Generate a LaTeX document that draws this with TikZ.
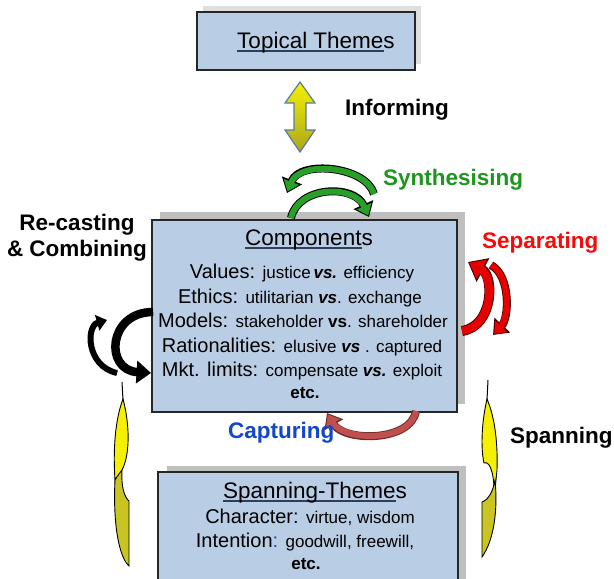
\documentclass[tikz,border=0pt]{standalone}
\usepackage{fontspec}
\setmainfont{Liberation Sans}
\usetikzlibrary{arrows.meta}
\definecolor{boxfill}{HTML}{B9CDE5}
\definecolor{boxline}{HTML}{262626}
\definecolor{shadowc}{HTML}{BFBFBF}
\definecolor{ulcol}{HTML}{2E3F5C}
\definecolor{synthgreen}{RGB}{30,150,30}
\definecolor{arrgreen}{RGB}{40,160,40}
\definecolor{sepred}{RGB}{245,10,10}
\definecolor{arrred}{RGB}{230,0,0}
\definecolor{capblue}{RGB}{20,70,200}
\definecolor{caparr}{HTML}{C0504D}
\definecolor{yelbright}{HTML}{F5F000}
\definecolor{yeldark}{HTML}{C9C422}
\definecolor{infoutline}{HTML}{5A7CA0}
\newcommand\dgTitle{\fontsize{22.5}{26}\selectfont}
\newcommand\dgMain{\fontsize{20}{24}\selectfont}
\newcommand\dgSub{\fontsize{17}{20}\selectfont}
\newcommand\dgLbl{\fontsize{22.5}{26}\selectfont\bfseries}
\newcommand\dgul[2]{\setbox0\hbox{#1}\rlap{\color{ulcol}\rule[-4pt]{\wd0}{1.6pt}}\box0#2}
\newcommand\fatarrow[4]{%
  \draw[color=#2, line width=#3+2pt, -{Triangle[width=0pt 2.6, length=0pt 1.7]}] #4;
  \draw[color=#1, line width=#3, shorten >=1.7pt, -{Triangle[width=0pt 2.6, length=0pt 1.7]}] #4;}
\tikzset{
  dgbox/.style={draw=boxline, line width=1.5pt, fill=boxfill},
  dgshadow/.style={fill=shadowc, draw=none},
  lbl/.style={font=\dgLbl, inner sep=0pt},
  txt/.style={inner sep=0pt, anchor=base},
  yelpiece/.style={draw=black, line width=0.9pt}
}
\begin{document}
\begin{tikzpicture}[x=1pt,y=-1pt]
\useasboundingbox (0,0) rectangle (614,579);
\clip (0,0) rectangle (614,579);

% ---------- Topical Themes box ----------
\fill[shadowc!50] (203,6) rectangle (421,64);
\draw[dgbox] (197,12) rectangle (415,70);
\node[txt, font=\dgTitle] (topical) at (316,48) {\dgul{Topical Theme}{s}};

% ---------- Informing double arrow ----------
\shade[top color=yelbright, bottom color=yeldark!85!black, draw=infoutline, line width=1.2pt]
  (300,82) -- (315,103) -- (306,103) -- (306,130) -- (315,130) -- (300,152)
  -- (285,130) -- (294,130) -- (294,103) -- (285,103) -- cycle;
\node[lbl, anchor=base west] (informing) at (345,115) {Informing};

% ---------- Components box ----------
\fill[dgshadow] (160,212) rectangle (465,404);
\draw[dgbox] (152,220) rectangle (457,412);
\node[txt, font=\dgTitle] (comptitle) at (309,245) {\dgul{Component}{s}};
\node[txt] (values) at (302,278) {\dgMain Values: \dgSub justice\,\textbf{\textit{vs.}} efficiency};
\node[txt] (ethics) at (300,303) {\dgMain Ethics: \dgSub utilitarian \textbf{\textit{vs}}. exchange};
\node[txt] (models) at (303,327) {\dgMain Models: \dgSub stakeholder \textbf{vs}. shareholder};
\node[txt] (ration) at (302,352) {\dgMain Rationalities: \dgSub elusive \textbf{\textit{vs}} . captured};
\node[txt] (mkt) at (302,376) {\dgMain Mkt. limits: \dgSub compensate \textbf{\textit{vs.}} exploit};
\node[txt, font=\dgSub\bfseries] (etc1) at (305,398) {etc.};

% ---------- Synthesising (green) ----------
\fatarrow{arrgreen}{black}{6pt}{(374,194) .. controls (366,166) and (300,160) .. (287,193)}
\fatarrow{arrgreen}{black}{6pt}{(291,218) .. controls (298,186) and (354,184) .. (369,217)}
\node[lbl, anchor=base west, text=synthgreen] (synth) at (383,185) {Synthesising};

% ---------- Re-casting & Combining (black) ----------
\node[lbl, align=center, anchor=base] (recast) at (77,256) {Re-casting\\\& Combining};
\fatarrow{black}{black}{6.5pt}{(153,312) .. controls (108,312) and (104,370) .. (151,373)}
\fatarrow{black}{black}{4pt}{(117,373) .. controls (86,366) and (86,326) .. (107,320)}

% ---------- Separating (red) ----------
\node[lbl, anchor=base west, text=sepred] (sep) at (482,248) {Separating};
\fatarrow{arrred}{black!70!red}{8pt}{(462,331) .. controls (494,326) and (494,276) .. (468,262)}
\fatarrow{arrred}{black!70!red}{6pt}{(491,265) .. controls (511,276) and (509,318) .. (493,335)}

% ---------- Capturing ----------
\fatarrow{caparr}{caparr!55!black}{6pt}{(416,411) .. controls (411,442) and (344,442) .. (327,413)}
\node[lbl, anchor=base west, text=capblue] (capt) at (228,438) {Capturing};

% ---------- Spanning-Themes box ----------
\fill[dgshadow] (167,466) rectangle (466,600);
\draw[dgbox] (158,472) rectangle (458,610);
\node[txt, font=\dgTitle] (spantitle) at (315,498) {\dgul{Spanning-Theme}{s}};
\node[txt] (charac) at (310,523) {\dgMain Character: \dgSub virtue, wisdom};
\node[txt] (intent) at (305,547) {\dgMain Intention{\color{capblue}:} \dgSub goodwill, freewill,};
\node[txt, font=\dgSub\bfseries] (etc2) at (306,569) {etc.};

% ---------- Spanning (yellow, left) ----------
\draw[line width=1pt] (122,382) -- (123,400);
\fill[yeldark, yelpiece] (115,480) .. controls (117,474) and (120,472) .. (122,470)
  .. controls (121,485) and (124,497) .. (129,501) -- (129,566)
  .. controls (118,556) and (113,520) .. (115,480) -- cycle;
\fill[yelbright, yelpiece] (123,399) .. controls (130,425) and (130,455) .. (122,470)
  .. controls (118,475) and (116,478) .. (115,480)
  .. controls (113,450) and (115,420) .. (123,399) -- cycle;

% ---------- Spanning (yellow, right) ----------
\draw[line width=1pt] (488,380) -- (487,400);
\fill[yelbright, yelpiece] (487,399) .. controls (481,425) and (481,450) .. (484,463)
  .. controls (491,460) and (495,478) .. (494,500) -- (497,470)
  .. controls (498,440) and (494,415) .. (487,399) -- cycle;
\fill[yeldark, yelpiece] (482,502) .. controls (488,500) and (493,492) .. (495,480)
  .. controls (498,510) and (494,540) .. (482,557) -- cycle;
\node[lbl, anchor=base west] (spanning) at (510,443) {Spanning};
\end{tikzpicture}
\end{document}
